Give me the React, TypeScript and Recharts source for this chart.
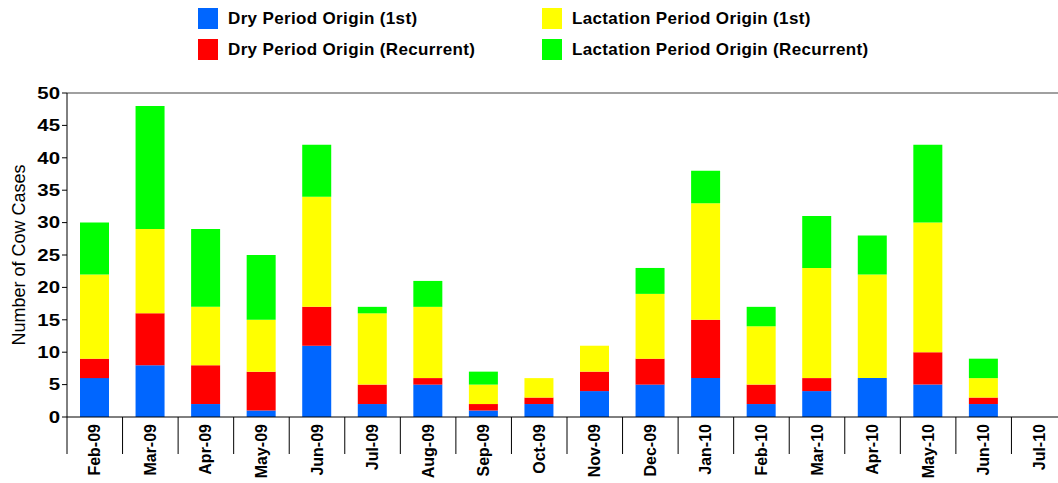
// Stacked monthly cow-case counts, four origin series, chart-style legend on top.
import { BarChart, Bar, XAxis, YAxis, ReferenceLine } from "recharts";

const months = [
  "Feb-09", "Mar-09", "Apr-09", "May-09", "Jun-09", "Jul-09", "Aug-09", "Sep-09", "Oct-09",
  "Nov-09", "Dec-09", "Jan-10", "Feb-10", "Mar-10", "Apr-10", "May-10", "Jun-10", "Jul-10",
];
const dryFirst = [6, 8, 2, 1, 11, 2, 5, 1, 2, 4, 5, 6, 2, 4, 6, 5, 2, 0];
const dryRecurrent = [3, 8, 6, 6, 6, 3, 1, 1, 1, 3, 4, 9, 3, 2, 0, 5, 1, 0];
const lactFirst = [13, 13, 9, 8, 17, 11, 11, 3, 3, 4, 10, 18, 9, 17, 16, 20, 3, 0];
const lactRecurrent = [8, 19, 12, 10, 8, 1, 4, 2, 0, 0, 4, 5, 3, 8, 6, 12, 3, 0];
const yTicks = [0, 5, 10, 15, 20, 25, 30, 35, 40, 45, 50];

const series = [
  { key: "dryFirst", name: "Dry Period Origin (1st)", color: "#0066FF" },
  { key: "dryRecurrent", name: "Dry Period Origin (Recurrent)", color: "#FF0000" },
  { key: "lactFirst", name: "Lactation Period Origin (1st)", color: "#FFFF00" },
  { key: "lactRecurrent", name: "Lactation Period Origin (Recurrent)", color: "#00FF00" },
];

const data = months.map((m, i) => ({
  month: m,
  dryFirst: dryFirst[i],
  dryRecurrent: dryRecurrent[i],
  lactFirst: lactFirst[i],
  lactRecurrent: lactRecurrent[i],
}));

const FONT = '"Liberation Sans", Arial, sans-serif';
const BAND = 1000 / months.length;

function MonthTick({ x = 0, y = 0, payload }: any) {
  const bx = x - BAND / 2;
  return (
    <g>
      <line x1={bx} y1={y} x2={bx} y2={y + 37} stroke="#000" strokeWidth={1} />
      <text
        x={x}
        y={y + 7}
        transform={`rotate(-90 ${x} ${y + 7})`}
        textAnchor="end"
        dominantBaseline="central"
        fontFamily={FONT}
        fontWeight="bold"
        fontSize={16}
        fill="#000"
      >
        {payload?.value}
      </text>
    </g>
  );
}

// the original's numbers are a bit wider than Arial bold, so stretch them a touch
function CountTick({ x = 0, y = 0, payload }: any) {
  return (
    <text
      x={0}
      y={0}
      transform={`translate(${x} ${y}) scale(1.2 1)`}
      textAnchor="end"
      dominantBaseline="central"
      fontFamily={FONT}
      fontWeight="bold"
      fontSize={17}
      fill="#000"
    >
      {payload?.value}
    </text>
  );
}

const legendPos = [
  { left: 198, top: 8 },
  { left: 198, top: 39 },
  { left: 542, top: 8 },
  { left: 542, top: 39 },
];

export default function App() {
  return (
    <div
      style={{
        position: "absolute",
        left: 0,
        top: 0,
        width: 1058,
        height: 483,
        overflow: "hidden",
        background: "#fff",
        fontFamily: FONT,
      }}
    >
      {series.map((s, i) => (
        <div
          key={s.key}
          style={{
            position: "absolute",
            left: legendPos[i].left,
            top: legendPos[i].top,
            display: "flex",
            alignItems: "center",
            height: 21,
          }}
        >
          <div style={{ width: 20, height: 21, background: s.color }} />
          <span
            style={{
              marginLeft: 10,
              fontWeight: "bold",
              fontSize: 17,
              letterSpacing: 0.35,
              color: "#000",
            }}
          >
            {s.name}
          </span>
        </div>
      ))}
      <BarChart
        width={1080}
        height={483}
        data={data}
        margin={{ top: 93, right: 13, bottom: 0, left: 0 }}
        barSize={29}
      >
        <ReferenceLine y={50} stroke="#808080" strokeWidth={1.5} ifOverflow="extendDomain" />
        <XAxis
          dataKey="month"
          height={66}
          interval={0}
          tickSize={0}
          tickMargin={0}
          tickLine={false}
          axisLine={{ stroke: "#000" }}
          tick={<MonthTick />}
        />
        <YAxis
          width={67}
          domain={[0, 50]}
          ticks={yTicks}
          interval={0}
          tickSize={5}
          tickMargin={2}
          axisLine={{ stroke: "#000" }}
          tickLine={{ stroke: "#000" }}
          tick={<CountTick />}
          label={{
            content: () => (
              <text
                x={19}
                y={255}
                transform="rotate(-90 19 255)"
                textAnchor="middle"
                dominantBaseline="central"
                fontFamily={FONT}
                fontSize={18}
                fill="#000"
              >
                Number of Cow Cases
              </text>
            ),
          }}
        />
        {series.map((s) => (
          <Bar
            key={s.key}
            dataKey={s.key}
            name={s.name}
            stackId="cases"
            fill={s.color}
            isAnimationActive={false}
          />
        ))}
      </BarChart>
    </div>
  );
}
